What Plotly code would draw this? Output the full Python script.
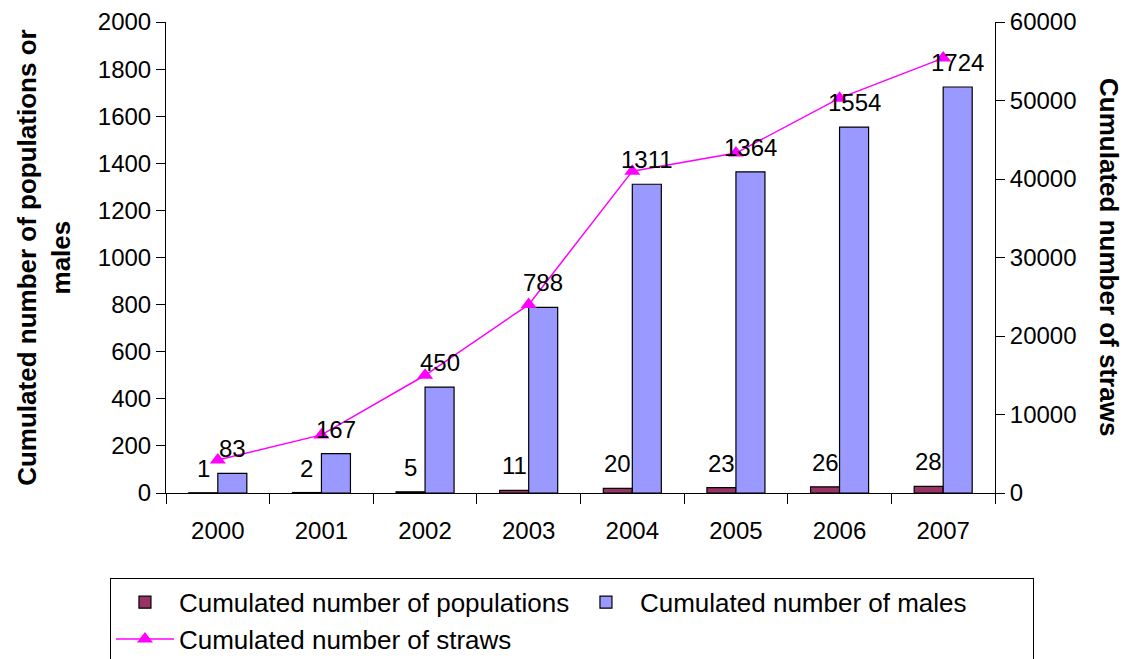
import plotly.graph_objects as go

years = ["2000", "2001", "2002", "2003", "2004", "2005", "2006", "2007"]
populations = [1, 2, 5, 11, 20, 23, 26, 28]
males = [83, 167, 450, 788, 1311, 1364, 1554, 1724]
straws = [4200, 7400, 15000, 24000, 41000, 43300, 50300, 55400]

FONT = "Liberation Sans, Arial, sans-serif"
FS = 24

fig = go.Figure()
fig.add_trace(go.Bar(
    x=years, y=populations, name="Cumulated number of populations",
    marker=dict(color="#993366", line=dict(color="black", width=1.2)),
))
fig.add_trace(go.Bar(
    x=years, y=males, name="Cumulated number of males",
    marker=dict(color="#9999FF", line=dict(color="black", width=1.2)),
))
fig.add_trace(go.Scatter(
    x=years, y=straws, name="Cumulated number of straws", yaxis="y2",
    mode="lines+markers",
    line=dict(color="#FF00FF", width=1.5),
    marker=dict(symbol="triangle-up", size=14, color="#FF00FF"),
))

annotations = []
for i, (p, m) in enumerate(zip(populations, males)):
    annotations.append(dict(x=i, y=p, xref="x", yref="y", text=str(p), showarrow=False,
                            xshift=-14.5, yshift=9, yanchor="bottom",
                            font=dict(family=FONT, size=FS, color="black")))
    annotations.append(dict(x=i, y=m, xref="x", yref="y", text=str(m), showarrow=False,
                            xshift=14.5, yshift=9, yanchor="bottom",
                            font=dict(family=FONT, size=FS, color="black")))

annotations.append(dict(x=-0.148, y=0.5, xref="paper", yref="paper",
                        xanchor="center", yanchor="middle",
                        text="<b>Cumulated number of populations or<br>males</b>",
                        textangle=-90, showarrow=False,
                        font=dict(family=FONT, size=26, color="black")))
annotations.append(dict(x=1.138, y=0.5, xref="paper", yref="paper",
                        xanchor="center", yanchor="middle",
                        text="<b>Cumulated number of straws</b>",
                        textangle=90, showarrow=False,
                        font=dict(family=FONT, size=26, color="black")))

fig.update_layout(
    width=1120, height=651,
    margin=dict(l=158, r=133, t=14, b=166, autoexpand=False),
    paper_bgcolor="white", plot_bgcolor="white",
    font=dict(family=FONT, size=FS, color="black"),
    barmode="group", bargap=0.44, bargroupgap=0,
    showlegend=True,
    legend=dict(orientation="h", x=-0.0676, y=-0.18, xanchor="left", yanchor="top",
                bordercolor="black", borderwidth=1, bgcolor="white", itemwidth=58,
                entrywidth=388, entrywidthmode="pixels",
                font=dict(family=FONT, size=26, color="black")),
    annotations=annotations,
    xaxis=dict(
        type="category", range=[-0.5, 7.5], showline=True, linecolor="black", linewidth=1,
        ticks="outside", ticklen=10, tickcolor="black", tickson="boundaries",
        ticklabelstandoff=16, showgrid=False, zeroline=False, tickangle=0,
        tickfont=dict(family=FONT, size=FS, color="black"),
    ),
    yaxis=dict(
        range=[0, 2000], dtick=200, showline=True, linecolor="black", linewidth=1,
        ticks="outside", ticklen=9, tickcolor="black", showgrid=False, zeroline=False,
        tickfont=dict(family=FONT, size=FS, color="black"),
    ),
    yaxis2=dict(
        range=[0, 60000], dtick=10000, overlaying="y", side="right", tickformat="d",
        showline=True, linecolor="black", linewidth=1,
        ticks="outside", ticklen=9, tickcolor="black", showgrid=False, zeroline=False,
        tickfont=dict(family=FONT, size=FS, color="black"),
    ),
)

fig.write_html("out.html")
